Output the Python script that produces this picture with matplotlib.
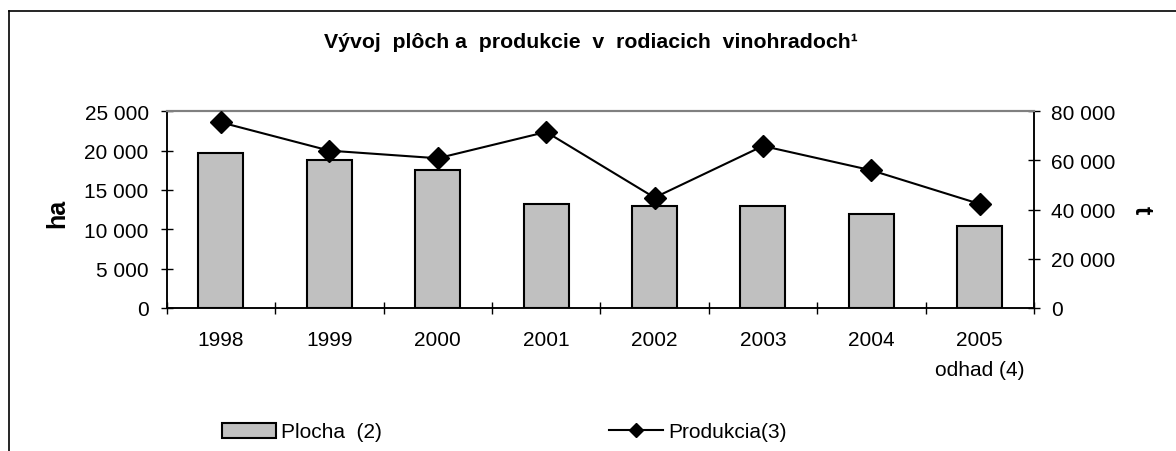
import matplotlib
matplotlib.use("Agg")
import matplotlib.pyplot as plt
from matplotlib.ticker import FuncFormatter, FixedLocator
from matplotlib.lines import Line2D
from matplotlib.patches import Patch

plt.rcParams['font.family'] = ['Liberation Sans', 'DejaVu Sans']

# údaje z grafu
roky = ['1998', '1999', '2000', '2001', '2002', '2003', '2004', '2005\nodhad (4)']
plocha = [19660, 18850, 17580, 13260, 13000, 13000, 11990, 10460]          # ha
produkcia = [75500, 64000, 60900, 71600, 44900, 65900, 56000, 42300]       # t

W, H = 1176, 452
fig = plt.figure(figsize=(W / 100, H / 100), dpi=100)
ax = fig.add_axes([166.7 / W, 1 - 309 / H, (1034 - 166.7) / W, (309 - 112.3) / H])
ax2 = ax.twinx()

x = list(range(len(roky)))
ax.bar(x, plocha, width=0.415, color='#c0c0c0', edgecolor='black', linewidth=1.5, zorder=2)
ax2.plot(x, produkcia, color='black', linewidth=1.5, marker='D', markersize=11,
         markerfacecolor='black', markeredgecolor='black', zorder=3)

fmt = FuncFormatter(lambda v, p: f"{v:,.0f}".replace(",", " "))

ax.set_xlim(-0.5, 7.5)
ax.set_ylim(0, 25000)
ax.set_yticks(range(0, 25001, 5000))
ax.yaxis.set_major_formatter(fmt)
ax2.set_ylim(0, 80000)
ax2.set_yticks(range(0, 80001, 20000))
ax2.yaxis.set_major_formatter(fmt)

ax.set_xticks(x)
ax.set_xticklabels(roky, fontsize=15, linespacing=1.75)
ax.xaxis.set_minor_locator(FixedLocator([i - 0.5 for i in range(9)]))
ax.tick_params(axis='x', which='major', length=0, pad=15.5)
ax.tick_params(axis='x', which='minor', direction='inout', length=9, width=1)
ax.tick_params(axis='y', direction='inout', length=9, width=1, labelsize=15, pad=8.5)
ax2.tick_params(axis='y', direction='inout', length=9, width=1, labelsize=15, pad=7.5)

for a in (ax, ax2):
    for s in a.spines.values():
        s.set_linewidth(1.1)
    a.spines['top'].set_color('#808080')
    a.spines['top'].set_linewidth(1.5)

# popisy osí
fig.text(57 / W, 1 - 213 / H, 'ha', rotation=90, fontsize=18, fontweight='bold',
         ha='center', va='center')
fig.text(1142 / W, 1 - 210 / H, 't', rotation=270, fontsize=18, fontweight='bold',
         ha='center', va='center')

# nadpis
fig.text(591 / W, 1 - 48 / H, 'Vývoj  plôch a  produkcie  v  rodiacich  vinohradoch¹',
         fontsize=15.3, fontweight='bold', ha='center', va='baseline')

# rámček
fig.add_artist(Line2D([9 / W, 1], [1 - 12 / H, 1 - 12 / H], transform=fig.transFigure,
                      color='black', linewidth=1.2))
fig.add_artist(Line2D([9 / W, 9 / W], [0, 1 - 12 / H], transform=fig.transFigure,
                      color='black', linewidth=1.2))

# legenda
h1 = Patch(facecolor='#c0c0c0', edgecolor='black', linewidth=1.5, label='Plocha  (2)')
h2 = Line2D([], [], color='black', linewidth=1.5, marker='D', markersize=7,
            label='Produkcia(3)')
fig.legend(handles=[h1, h2], loc='center left', bbox_to_anchor=(222 / W, 1 - 433 / H),
           ncol=2, frameon=False, fontsize=15, handlelength=2.6, handletextpad=0.25,
           columnspacing=10.9, borderpad=0, borderaxespad=0)

fig.savefig('out.png', dpi=100)
